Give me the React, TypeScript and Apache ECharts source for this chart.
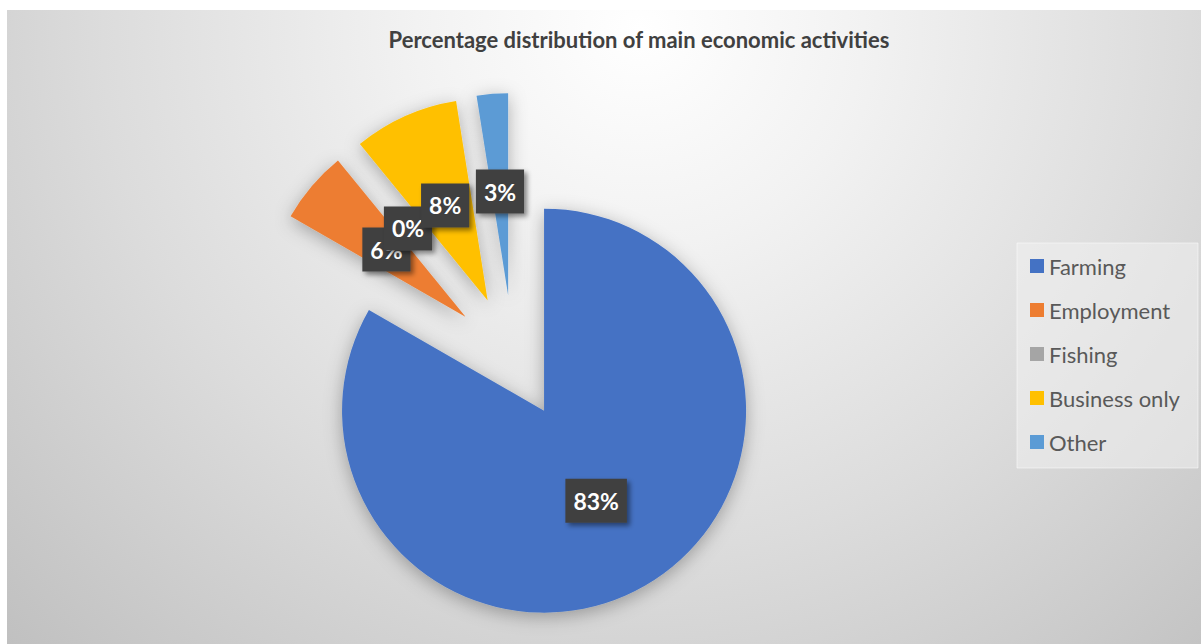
import React, { useEffect, useRef } from "react";
import * as echarts from "echarts";

const categories = ["Farming", "Employment", "Fishing", "Business only", "Other"];
const percentages = [83.3, 5.8, 0, 8.4, 2.5];
const colors = ["#4472C4", "#ED7D31", "#A5A5A5", "#FFC000", "#5B9BD5"];
const chartTitle = "Percentage distribution of main economic activities";

export default function App() {
  const ref = useRef<HTMLDivElement>(null);
  useEffect(() => {
    document.documentElement.style.overflow = "hidden";
    const chart = echarts.init(ref.current!, undefined, { renderer: "svg" });
    chart.setOption({
      animation: false,
      backgroundColor: "transparent",
      title: {
        text: chartTitle,
        left: 627,
        top: 13,
        textAlign: "center",
        textStyle: { fontFamily: "Lato", fontWeight: "bold", fontSize: 22, color: "#404040" },
      },
      graphic: [
        {
          type: "rect",
          shape: { x: 1010, y: 233, width: 181, height: 225 },
          style: { fill: "rgba(240,240,240,0.55)", stroke: "rgba(255,255,255,0.5)", lineWidth: 1 },
          z: 0,
        },
      ],
      legend: {
        orient: "vertical",
        left: 1018,
        top: 240,
        itemWidth: 14,
        itemHeight: 14,
        itemGap: 22,
        itemTextGap: 6,
        icon: "rect",
        selectedMode: false,
        textStyle: { fontFamily: "Lato", fontSize: 22, color: "#595959", lineHeight: 22 },
        data: categories,
      },
      series: [
        {
          type: "pie",
          center: [506, 347],
          radius: 202,
          startAngle: 90,
          clockwise: true,
          selectedMode: "multiple",
          selectedOffset: 62,
          avoidLabelOverlap: false,
          minShowLabelAngle: 0,
          labelLayout: { hideOverlap: false },
          itemStyle: {
            shadowBlur: 18,
            shadowColor: "rgba(0,0,0,0.3)",
            shadowOffsetY: 4,
          },
          label: {
            show: true,
            position: "inside",
            formatter: (p: any) => `${Math.round(p.value)}%`,
            fontFamily: "Lato",
            fontWeight: "bold",
            fontSize: 23,
            color: "#ffffff",
            backgroundColor: "#404040",
            padding: [11, 8, 10, 8],
            shadowBlur: 5,
            shadowOffsetX: 3,
            shadowOffsetY: 3,
            shadowColor: "rgba(0,0,0,0.45)",
          },
          labelLine: { show: false },
          emphasis: { disabled: true },
          data: categories.map((name, i) => ({
            name,
            value: percentages[i],
            selected: true,
            itemStyle: { color: colors[i] },
            select: { itemStyle: { color: colors[i] } },
          })),
        },
      ],
    });
    return () => chart.dispose();
  }, []);
  return (
    <div
      ref={ref}
      style={{
        position: "absolute",
        left: 7,
        top: 10,
        width: 1194,
        height: 634,
        background:
          "radial-gradient(ellipse farthest-corner at 53% 3%, #ffffff 0%, #f2f2f2 25%, #dcdcdc 60%, #c0c0c0 100%)",
      }}
    />
  );
}
